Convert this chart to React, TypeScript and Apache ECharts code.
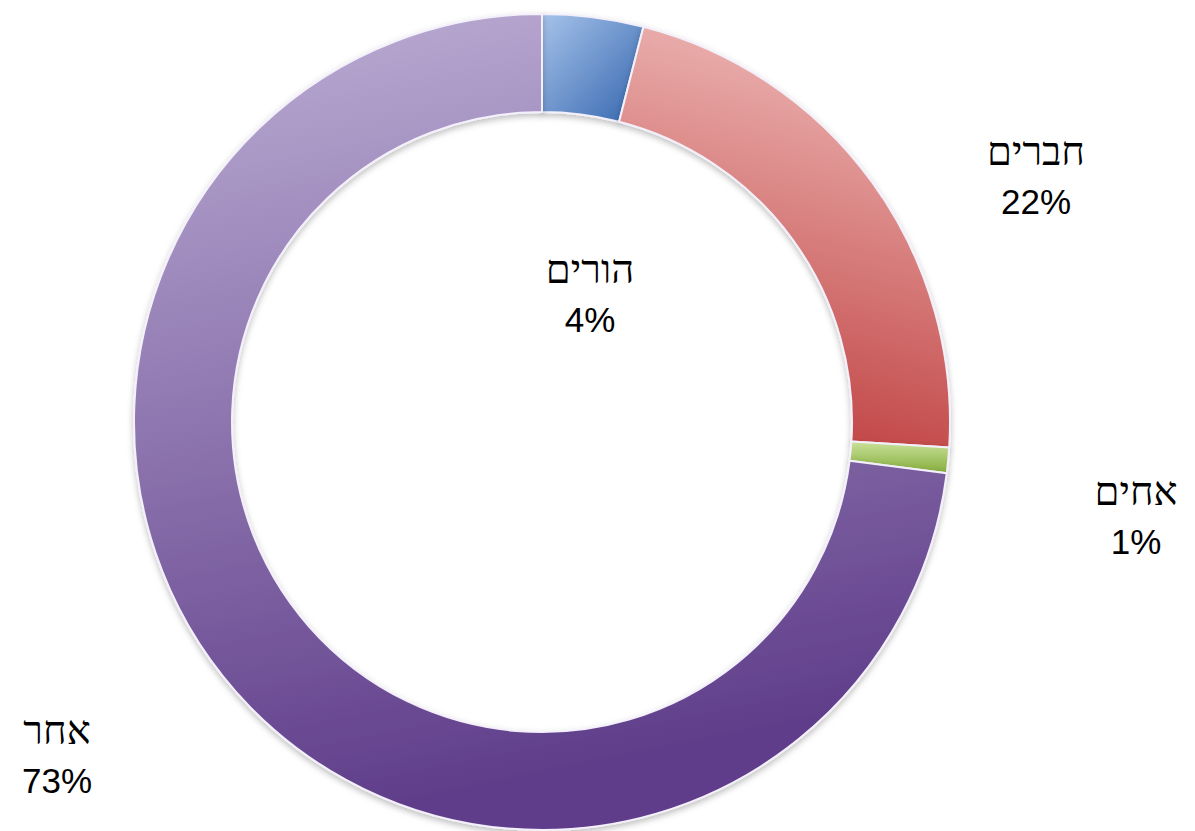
import React, { useEffect, useRef } from "react";
import * as echarts from "echarts";

const categories = ["הורים", "חברים", "אחים", "אחר"];
const values = [4, 22, 1, 73];
const percentLabels = ["4%", "22%", "1%", "73%"];

const gradients: [string, string, number, number, number, number][] = [
  ["#a6c2ea", "#3466ae", 0, 0, 1, 1],
  ["#eab0ae", "#bd3a3a", 0.3, 0, 0.1, 1],
  ["#c9e19a", "#86ad3c", 0, 0, 0, 1],
  ["#bcaed4", "#5f3d8a", 0, 0, 0.2, 1],
];

const labelPos: [number, number][] = [
  [590, 294],
  [1036, 176],
  [1136, 516],
  [57, 755],
];

export default function App() {
  const ref = useRef<HTMLDivElement>(null);
  useEffect(() => {
    document.body.style.margin = "0";
    const chart = echarts.init(ref.current!, undefined, { renderer: "svg" });
    const data = categories.map((name, i) => {
      const g = gradients[i];
      return {
        name,
        value: values[i],
        itemStyle: {
          color: new echarts.graphic.LinearGradient(g[2], g[3], g[4], g[5], [
            { offset: 0, color: g[0] },
            { offset: 1, color: g[1] },
          ]),
        },
      };
    });
    chart.setOption({
      animation: false,
      backgroundColor: "#ffffff",
      series: [
        {
          type: "pie",
          radius: [310, 408],
          center: [542, 422],
          startAngle: 90,
          clockwise: true,
          avoidLabelOverlap: false,
          data,
          itemStyle: {
            borderColor: "#f4f0fb",
            borderWidth: 2,
            shadowColor: "rgba(0,0,0,0.25)",
            shadowBlur: 6,
            shadowOffsetY: 3,
          },
          labelLine: { show: false },
          label: {
            show: true,
            position: "outside",
            formatter: (p: any) => `{n|${p.name}}\n{p|${percentLabels[p.dataIndex]}}`,
            rich: {
              n: {
                fontFamily: "Liberation Serif",
                fontSize: 40,
                color: "#000",
                lineHeight: 50,
                align: "center",
              },
              p: {
                fontFamily: "Liberation Sans",
                fontSize: 35,
                color: "#000",
                lineHeight: 50,
                align: "center",
              },
            },
          },
          labelLayout: (params: any) => {
            const pos = labelPos[params.dataIndex];
            return {
              x: pos[0],
              y: pos[1],
              align: "center",
              verticalAlign: "middle",
            };
          },
        },
      ],
    });
    return () => chart.dispose();
  }, []);
  return <div ref={ref} style={{ width: 1195, height: 831 }} />;
}
